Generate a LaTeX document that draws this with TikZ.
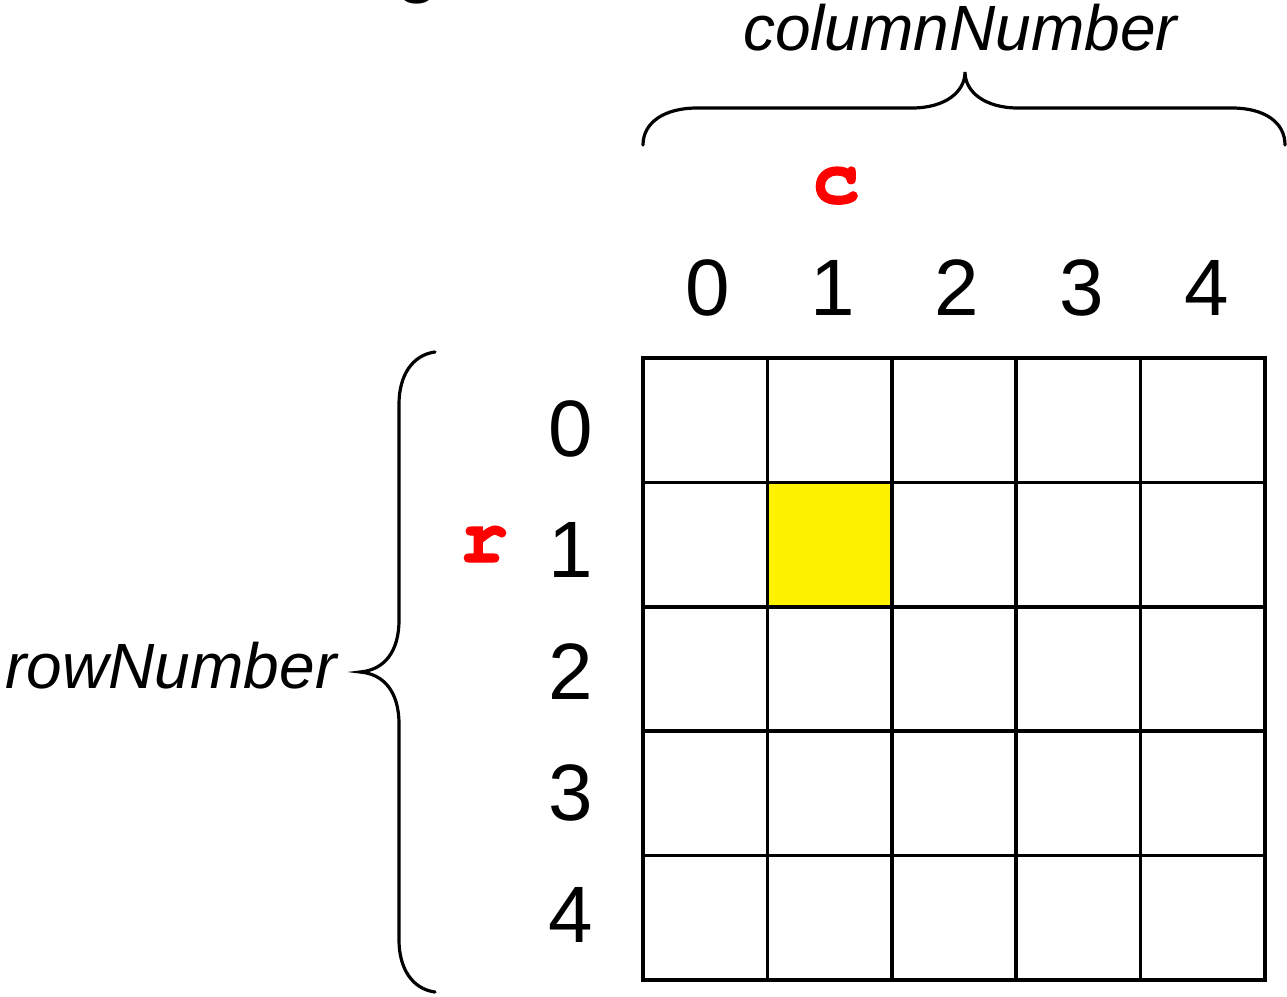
\documentclass[tikz,border=0pt]{standalone}
\usepackage{fontspec}
\setmainfont{Liberation Sans}
\newfontfamily\codefont{texgyrecursor-bold.otf}[FakeBold=1.5]
\begin{document}
\begin{tikzpicture}[x=1pt,y=-1pt,
  gridline/.style={line width=3.5pt,line cap=rect},
  bracepath/.style={line width=3.2pt,line cap=round},
  digit/.style={anchor=base,inner sep=0pt,font=\fontsize{80pt}{96pt}\selectfont},
  idx/.style={anchor=base,inner sep=0pt,text=red,font=\codefont\fontsize{80pt}{96pt}\selectfont},
  lbl/.style={anchor=base,inner sep=0pt,font=\itshape\fontsize{64pt}{76pt}\selectfont}]
\useasboundingbox (0,0) rectangle (1287,996);
\fill[white] (0,0) rectangle (1287,996);
% cut-off title glyph at the top edge
\node[digit] (title) at (418,-13) {g};
% highlighted cell
\fill[yellow] (767,483) rectangle (891,607);
% grid
\foreach \i in {0,...,5}{
  \draw[gridline] ({643+124.4*\i},358) -- ({643+124.4*\i},980);
  \draw[gridline] (643,{358+124.4*\i}) -- (1265,{358+124.4*\i});
}
% column numbers
\foreach \i in {0,...,4}{
  \node[digit] (col\i) at ({708+124.6*\i},315) {\i};
}
% row numbers
\foreach \i in {0,...,4}{
  \node[digit] (row\i) at (571,{456+121.6*\i}) {\i};
}
% index variables
\node[idx] (c) at (836,203) {c};
\node[idx] (r) at (484,562) {r};
% top brace
\coordinate (tl) at (643,145);
\coordinate (tr) at (1285,145);
\coordinate (ttip) at (965,72);
\draw[bracepath] (tl) .. controls (643,122) and (665,108) .. (697,108)
  -- (912,108) .. controls (945,108) and (965,92) .. (ttip)
  .. controls (965,92) and (985,108) .. (1018,108)
  -- (1232,108) .. controls (1264,108) and (1285,122) .. (tr);
% left brace
\coordinate (lt) at (435,352);
\coordinate (lb) at (435,992);
\coordinate (ltip) at (360,672);
\draw[bracepath] (lt) .. controls (412,355) and (399,376) .. (399,404)
  -- (399,620) .. controls (399,652) and (384,670) .. (ltip)
  .. controls (384,674) and (399,692) .. (399,724)
  -- (399,940) .. controls (399,968) and (412,989) .. (lb);
% labels
\node[lbl] (colNumber) at (960,50) {columnNumber};
\node[lbl] (rowNumber) at (171,688) {rowNumber};
\end{tikzpicture}
\end{document}
